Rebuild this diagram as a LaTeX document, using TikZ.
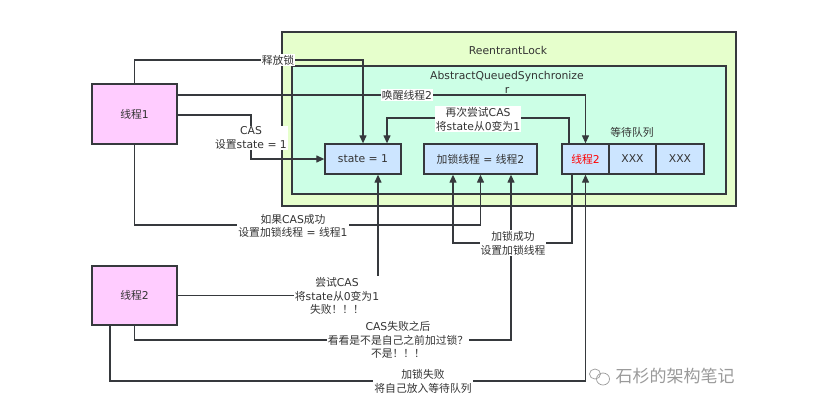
\documentclass[tikz,border=0pt]{standalone}
\usepackage{fontspec}
\setmainfont{Noto Sans CJK SC}
\newfontfamily\latfont{DejaVu Sans}
\newcommand\lt[1]{{\latfont #1}}
\usetikzlibrary{arrows.meta}
\definecolor{bord}{HTML}{36393D}
\definecolor{txt}{HTML}{333333}
\definecolor{outerfill}{HTML}{E6FFCC}
\definecolor{innerfill}{HTML}{CCFFE6}
\definecolor{bluefill}{HTML}{CCE5FF}
\definecolor{pinkfill}{HTML}{FFCCFF}
\definecolor{wmark}{HTML}{9A9A9A}
\tikzset{
  fnt/.style={font=\fontsize{10.8}{13.8}\selectfont, text=txt},
  box/.style={draw=bord, line width=1.3pt, fill=bluefill, minimum height=30, inner sep=0pt, fnt},
  thr/.style={draw=bord, line width=1.3pt, fill=pinkfill, minimum width=85, minimum height=60, inner sep=0pt, fnt},
  conn/.style={draw=bord, line width=1.2pt},
  arr/.style={conn, -{Triangle[length=8pt,width=7pt]}},
  lbl/.style={fnt, fill=white, align=center, inner sep=1pt},
}
\begin{document}
\begin{tikzpicture}[x=1pt,y=-1pt]
\useasboundingbox[fill=white] (0,0) rectangle (819,416);
% containers
\draw[draw=bord, line width=1.3pt, fill=outerfill] (282,32) rectangle (736,206);
\draw[draw=bord, line width=1.3pt, fill=innerfill] (292,66) rectangle (726,194);
\node[fnt] (rl) at (508,50) {\lt{ReentrantLock}};
\node[fnt, align=center] (aqs) at (507,82) {\lt{AbstractQueuedSynchronize}\\\lt{r}};
% boxes
\node[box, minimum width=76] (state) at (363,159) {\lt{state = 1}};
\node[box, minimum width=113] (lockthr) at (480.5,159) {加锁线程\lt{ = }线程\lt{2}};
\node[box, minimum width=47, text=red] (q1) at (585.5,159) {线程\lt{2}};
\node[box, minimum width=47] (q2) at (632.5,159) {\lt{XXX}};
\node[box, minimum width=48] (q3) at (680,159) {\lt{XXX}};
\node[fnt] (wq) at (632,132) {等待队列};
\node[thr] (t1) at (134.5,114) {线程\lt{1}};
\node[thr, minimum height=59] (t2) at (134.5,295.5) {线程\lt{2}};
% connectors
\draw[arr] (t1.north) -- (t1.north |- 0,60) -| (state.north);
\draw[arr] (t1.north east |- 0,95) -| (q1.north);
\draw[arr] (t1.north east |- 0,115) -- (251,115) -- (251,159) -- (state.west);
\draw[arr] ([xshift=-16.5]q1.north) -- ([xshift=-16.5]q1.north |- 0,118) -| ([xshift=24]state.north);
\draw[arr] (t1.south) -- (t1.south |- 0,225) -| (lockthr.south);
\draw[arr] (t2.east) -| ([xshift=15]state.south);
\draw[arr] (t2.south) -- (t2.south |- 0,340) -| ([xshift=30.5]lockthr.south);
\draw[arr] ([xshift=-13.5]q1.south) -- ([xshift=-13.5]q1.south |- 0,243) -| ([xshift=-27.5]lockthr.south);
\draw[arr] ([xshift=-24.5]t2.south) -- ([xshift=-24.5]t2.south |- 0,381) -| (q1.south);
% labels
\node[lbl] (l1) at (278,60) {释放锁};
\node[lbl] (l2) at (407,95) {唤醒线程\lt{2}};
\node[lbl] (l3) at (251,138) {\lt{CAS}\\设置\lt{state = 1}};
\node[lbl] (l4) at (478,119) {再次尝试\lt{CAS}\\将\lt{state}从\lt{0}变为\lt{1}};
\node[lbl] (l5) at (293,226) {如果\lt{CAS}成功\\设置加锁线程\lt{ = }线程\lt{1}};
\node[lbl] (l6) at (337,296) {尝试\lt{CAS}\\将\lt{state}从\lt{0}变为\lt{1}\\失败！！！};
\node[lbl] (l7) at (398,340) {\lt{CAS}失败之后\\看看是不是自己之前加过锁？\\不是！！！};
\node[lbl] (l8) at (513,243) {加锁成功\\设置加锁线程};
\node[lbl] (l9) at (423,381) {加锁失败\\将自己放入等待队列};
% watermark
\draw[wmark, line width=0.7pt] (595,374) ellipse (5.5 and 5);
\draw[wmark, line width=0.7pt] (603,379) ellipse (6.5 and 6);
\node[font=\fontsize{17}{17}\selectfont, text=wmark, anchor=west] (wm) at (612,376) {石杉的架构笔记};
\end{tikzpicture}
\end{document}
